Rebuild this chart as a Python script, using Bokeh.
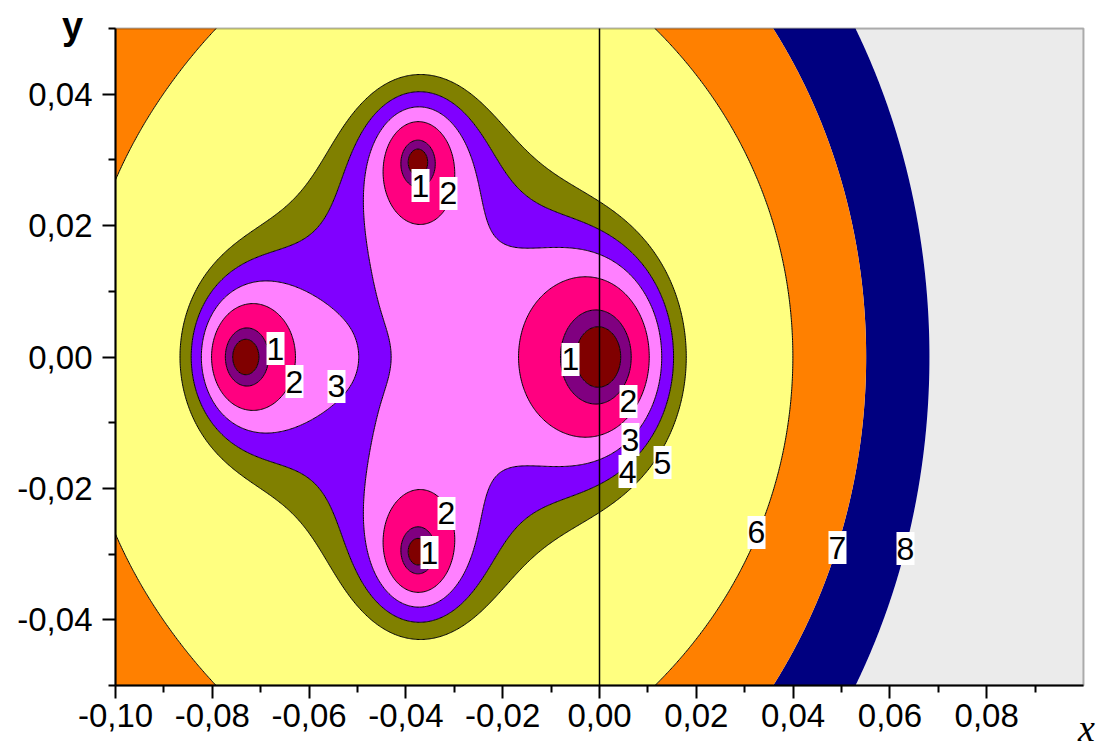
import numpy as np
from bokeh.plotting import figure
from bokeh.models import FixedTicker, CustomJSTickFormatter, Label, LinearAxis, Range1d, BoxAnnotation
from bokeh.embed import file_html
from bokeh.resources import INLINE
from bokeh.core.properties import value

# ---------------- data ----------------
x_lo, x_hi, y_lo, y_hi = -0.10, 0.10, -0.05, 0.05
x_ticks = [-0.10, -0.08, -0.06, -0.04, -0.02, 0.00, 0.02, 0.04, 0.06, 0.08]
x_tick_labels = ["-0,10", "-0,08", "-0,06", "-0,04", "-0,02", "0,00", "0,02", "0,04", "0,06", "0,08"]
x_minor = [-0.09, -0.07, -0.05, -0.03, -0.01, 0.01, 0.03, 0.05, 0.07, 0.09]
y_ticks = [-0.04, -0.02, 0.00, 0.02, 0.04]
y_tick_labels = ["-0,04", "-0,02", "0,00", "0,02", "0,04"]
y_minor = [-0.05, -0.03, -0.01, 0.01, 0.03, 0.05]

# field sources (positions, strengths) and the decay exponent
src_x = [0.0, -0.07319, -0.03752, -0.03752]
src_y = [0.0, 0.0, 0.02970, -0.02970]
src_q = [1.0, 0.7401, 0.5876, 0.5876]
decay = 0.3651

# contour boundary values 0..8 (0 = innermost, unlabelled; 1..8 labelled)
contour_levels = [26.5824, 23.6870, 20.8065, 19.4819, 18.4857, 17.6048, 13.3694, 11.7349, 10.6689]
band_colors = ["#EBEBEB", "#000080", "#FF8000", "#FFFF80", "#808000", "#8000FF", "#FF80FF", "#FF0080", "#800080", "#800000"]

# contour labels
lab_text = ["1", "2", "3", "4", "5", "1", "2", "3", "1", "2", "2", "1", "6", "7", "8"]
lab_x = [-0.00599, 0.00599, 0.00640, 0.00579, 0.01302, -0.06694, -0.06302, -0.05434, -0.03698, -0.03120, -0.03161, -0.03512, 0.03244, 0.04917, 0.06322]
lab_y = [-0.00038, -0.00677, -0.01256, -0.01743, -0.01606, 0.00129, -0.00373, -0.00449, 0.02610, 0.02489, -0.02382, -0.02976, -0.02671, -0.02900, -0.02915]

# ---------------- field ----------------
def field(X, Y):
    V = 0.0
    for sx, sy, q in zip(src_x, src_y, src_q):
        r = np.maximum(np.sqrt((X - sx)**2 + (Y - sy)**2), 1e-5)
        V = V + q * (r**(-decay) - 1.0) / decay
    return V

xs = np.linspace(x_lo, x_hi, 801)
ys = np.linspace(y_lo, y_hi, 401)
XX, YY = np.meshgrid(xs, ys)
Z = field(XX, YY)
fill_levels = [float(Z.min()) - 1.0] + contour_levels[::-1] + [float(Z.max()) + 1.0]
line_levels = contour_levels[:7][::-1]

# ---------------- figure: frame spans the canvas, the plotted box sits at FR ----------------
FR = (115.0, 1083.0, 28.0, 685.0)
W, H = 1106, 742
xpp = (x_hi - x_lo) / (FR[1] - FR[0]); ypp = (y_hi - y_lo) / (FR[3] - FR[2])
p = figure(width=W, height=H,
           x_range=Range1d(x_lo - FR[0]*xpp, x_lo + (W - FR[0])*xpp),
           y_range=Range1d(y_hi - (H - FR[2])*ypp, y_hi + FR[2]*ypp),
           x_axis_location=None, y_axis_location=None,
           output_backend="svg", toolbar_location=None,
           min_border=0, min_border_left=0, min_border_right=0, min_border_top=0, min_border_bottom=0)
for g in p.grid:
    g.visible = False
p.outline_line_color = None
p.background_fill_color = "white"
p.border_fill_color = "white"

p.contour(xs, ys, Z, fill_levels, fill_color=band_colors)
p.contour(xs, ys, Z, line_levels, line_color="black", line_width=1)
p.segment(x0=[0.0], y0=[y_lo], x1=[0.0], y1=[y_hi], line_color="black", line_width=1.5)
p.add_layout(BoxAnnotation(left=x_lo, right=x_hi, bottom=y_lo, top=y_hi, fill_color=None,
                           line_color="black", line_width=2))

p.rect(lab_x, lab_y, width=18, height=33, width_units="screen", height_units="screen",
       fill_color="white", line_color=None)
p.text(lab_x, lab_y, text=lab_text, text_align="center", text_baseline="middle",
       text_font=value("Liberation Sans"), text_font_size="32px", text_color="black")

xaxis = LinearAxis(fixed_location=y_lo, bounds=(x_lo, x_hi))
yaxis = LinearAxis(fixed_location=x_lo, bounds=(y_lo, y_hi))
p.add_layout(xaxis, "below")
p.add_layout(yaxis, "left")
for ax, ticks, labels, minor in [(xaxis, x_ticks, x_tick_labels, x_minor), (yaxis, y_ticks, y_tick_labels, y_minor)]:
    ax.ticker = FixedTicker(ticks=ticks, minor_ticks=minor)
    ax.formatter = CustomJSTickFormatter(args=dict(t=ticks, l=labels), code="""
        let b = 0; for (let i = 0; i < t.length; i++) { if (Math.abs(t[i]-tick) < Math.abs(t[b]-tick)) b = i; }
        return l[b];""")
    ax.axis_line_width = 2
    ax.major_tick_line_width = 2
    ax.minor_tick_line_width = 2
    ax.major_tick_in = 0
    ax.major_tick_out = 13
    ax.minor_tick_in = 0
    ax.minor_tick_out = 7
    ax.major_label_text_font = "Liberation Sans"
    ax.major_label_text_font_size = "33px"
    ax.major_label_text_color = "black"
xaxis.major_label_standoff = 5
yaxis.major_label_standoff = 10

p.add_layout(Label(x=x_lo + (72 - FR[0])*xpp, y=y_hi + (FR[2] - 25)*ypp, text="y", text_font="Liberation Sans",
                   text_font_size="38px", text_font_style="bold", text_align="center", text_baseline="alphabetic",
                   text_color="black"))
p.add_layout(Label(x=x_lo + (1086 - FR[0])*xpp, y=y_hi - (727 - FR[2])*ypp, text="x", text_font="Liberation Serif",
                   text_font_size="38px", text_font_style="italic", text_align="center", text_baseline="alphabetic",
                   text_color="black"))

open("out.html", "w").write(file_html(p, INLINE))
